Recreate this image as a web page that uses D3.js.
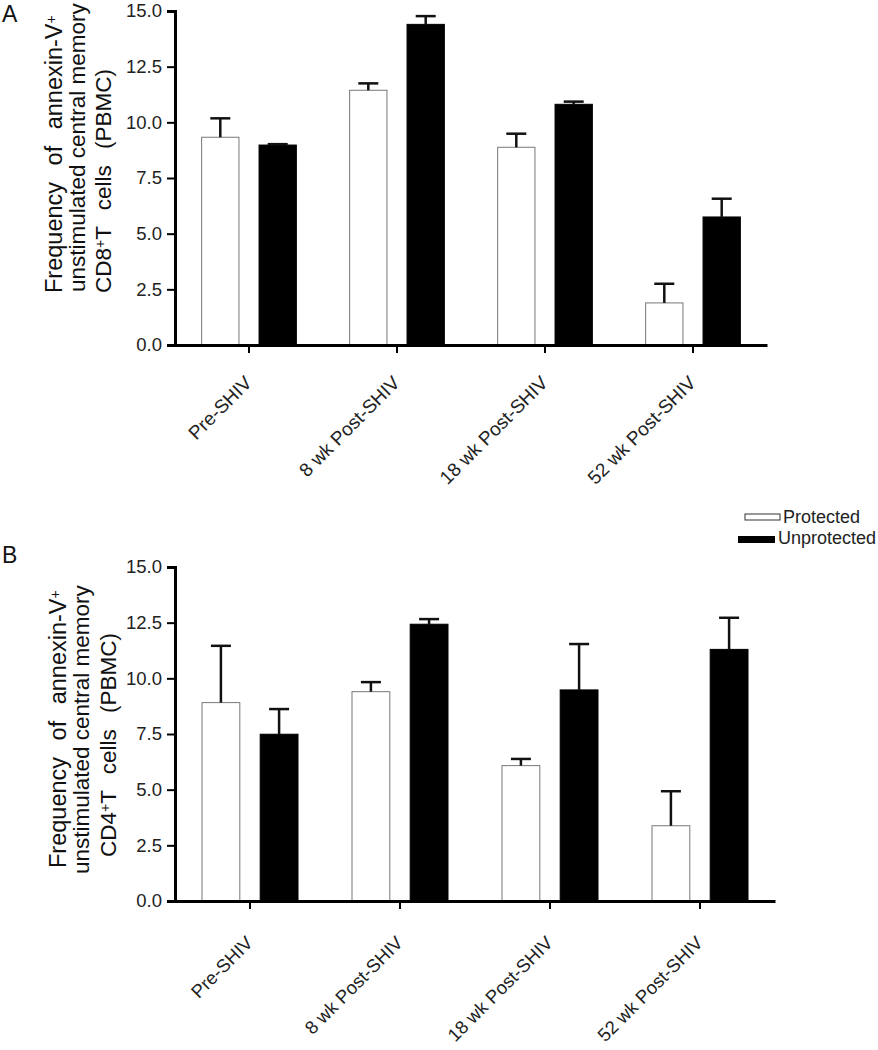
<!DOCTYPE html>
<html>
<head>
<meta charset="utf-8">
<script src="https://cdn.jsdelivr.net/npm/d3@7"></script>
<style>
  body { margin: 0; background: #fff; }
  svg { display: block; font-family: "Liberation Sans", Arial, sans-serif; }
</style>
</head>
<body>
<svg id="chart" width="878" height="1050"></svg>
<script>
// data
var categories = ['Pre-SHIV', '8 wk Post-SHIV', '18 wk Post-SHIV', '52 wk Post-SHIV'];
var groups = ['Protected', 'Unprotected'];
var yTicks = [0, 2.5, 5, 7.5, 10, 12.5, 15];

var cd8Protected = [9.33, 11.44, 8.88, 1.89];
var cd8ProtectedErr = [0.85, 0.31, 0.61, 0.86];
var cd8Unprotected = [8.98, 14.40, 10.81, 5.75];
var cd8UnprotectedErr = [0.04, 0.37, 0.12, 0.82];

var cd4Protected = [8.91, 9.40, 6.08, 3.38];
var cd4ProtectedErr = [2.55, 0.43, 0.30, 1.55];
var cd4Unprotected = [7.49, 12.43, 9.48, 11.30];
var cd4UnprotectedErr = [1.13, 0.23, 2.06, 1.42];

var fills = {'Protected': '#fff', 'Unprotected': '#000'};
var FONT = '"Liberation Sans", Arial, sans-serif';

var svg = d3.select('#chart');

function drawPanel(opt) {
	var y = d3.scaleLinear().domain([0, 15]).range([opt.bottom, opt.top]),
		x = d3.scaleBand().domain(categories).range([opt.left, opt.right]),
		bw = x.bandwidth(),
		xg = d3.scaleBand().domain(groups).range([bw * 0.18, bw * 0.82]).paddingInner(0.35),
		g = svg.append('g');

	var rows = [];
	categories.forEach(function(c, i) {
		rows.push({cat: c, grp: 'Protected', v: opt.prot[i], e: opt.protErr[i]});
		rows.push({cat: c, grp: 'Unprotected', v: opt.unprot[i], e: opt.unprotErr[i]});
	});

	function cx(d) { return x(d.cat) + xg(d.grp) + xg.bandwidth() / 2; }

	// bars
	g.selectAll('.bar')
		.data(rows)
		.enter()
		.append('rect')
		.attr('x', function(d) { return x(d.cat) + xg(d.grp); })
		.attr('y', function(d) { return y(d.v); })
		.attr('width', xg.bandwidth())
		.attr('height', function(d) { return y(0) - y(d.v); })
		.attr('fill', function(d) { return fills[d.grp]; })
		.attr('stroke', function(d) { return d.grp == 'Protected' ? '#777' : '#000'; })
		.attr('stroke-width', 1);

	// error bars (upper only)
	var eb = g.selectAll('.err')
		.data(rows)
		.enter()
		.append('g')
		.attr('stroke', '#111')
		.attr('stroke-width', 2.5);
	eb.append('line')
		.attr('x1', cx).attr('x2', cx)
		.attr('y1', function(d) { return y(d.v); })
		.attr('y2', function(d) { return y(d.v + d.e); });
	eb.append('line')
		.attr('x1', function(d) { return cx(d) - 10; })
		.attr('x2', function(d) { return cx(d) + 10; })
		.attr('y1', function(d) { return y(d.v + d.e); })
		.attr('y2', function(d) { return y(d.v + d.e); });

	// y axis
	var yAxis = g.append('g')
		.attr('transform', 'translate(' + opt.left + ',0)')
		.call(d3.axisLeft(y).tickValues(yTicks).tickFormat(d3.format('.1f')).tickSize(8).tickPadding(5));
	yAxis.select('.domain').attr('stroke-width', 3).attr('stroke', '#000');
	yAxis.selectAll('.tick line').attr('stroke-width', 2);
	yAxis.selectAll('text').attr('font-size', 18.5).attr('fill', '#222').attr('font-family', FONT);

	// x axis
	var xAxis = g.append('g')
		.attr('transform', 'translate(0,' + y(0) + ')')
		.call(d3.axisBottom(x).tickSize(8).tickSizeOuter(0));
	xAxis.select('.domain').attr('stroke-width', 3).attr('stroke', '#000');
	xAxis.selectAll('.tick line').attr('stroke-width', 2);
	xAxis.selectAll('text')
		.attr('font-size', opt.labelSize)
		.attr('fill', '#222')
		.attr('font-family', FONT)
		.attr('text-anchor', 'end')
		.attr('dy', 0)
		.attr('y', 0)
		.attr('transform', 'translate(4,' + opt.labelDrop + ') rotate(-45)');

	// panel letter
	svg.append('text')
		.attr('x', 2)
		.attr('y', opt.letterY)
		.attr('font-size', 23)
		.attr('fill', '#111')
		.text(opt.letter);

	// y title, three lines, words spread a little like the original
	opt.title.forEach(function(line, i) {
		var t = svg.append('text')
			.attr('transform', 'translate(' + opt.titleX[i] + ',' + opt.titleStart[i] + ') rotate(-90)')
			.attr('font-size', opt.titleSize[i])
			.attr('fill', '#111');
		line.forEach(function(part) {
			var s = t.append('tspan').text(part.t);
			if (part.sup) s.attr('font-size', 14).attr('baseline-shift', '45%');
		});
		var natural = t.node().getComputedTextLength(),
			spaces = line.map(function(p) { return p.t; }).join('').split(' ').length - 1;
		if (spaces > 0 && opt.titleLen[i] > natural)
			t.attr('word-spacing', Math.min(10, (opt.titleLen[i] - natural) / spaces));
	});
}

drawPanel({
	letter: 'A', letterY: 22,
	top: 11, bottom: 345, left: 175, right: 767, labelDrop: 39, labelSize: 19,
	prot: cd8Protected, protErr: cd8ProtectedErr,
	unprot: cd8Unprotected, unprotErr: cd8UnprotectedErr,
	title: [
		[{t: 'Frequency of annexin-V'}, {t: '+', sup: true}],
		[{t: 'unstimulated central memory'}],
		[{t: 'CD8'}, {t: '+', sup: true}, {t: 'T cells (PBMC)'}]
	],
	titleSize: [23.5, 22.5, 22.5],
	titleX: [62, 85, 111], titleStart: [293, 292, 293], titleLen: [288, 271, 230]
});

drawPanel({
	letter: 'B', letterY: 563,
	top: 567, bottom: 901, left: 175, right: 775, labelDrop: 43, labelSize: 18.5,
	prot: cd4Protected, protErr: cd4ProtectedErr,
	unprot: cd4Unprotected, unprotErr: cd4UnprotectedErr,
	title: [
		[{t: 'Frequency of annexin-V'}, {t: '+', sup: true}],
		[{t: 'unstimulated central memory'}],
		[{t: 'CD4'}, {t: '+', sup: true}, {t: 'T cells (PBMC)'}]
	],
	titleSize: [23.5, 22.5, 22.5],
	titleX: [66, 89, 116], titleStart: [868, 874, 857], titleLen: [288, 271, 230]
});

// legend
var legend = svg.append('g');
legend.append('rect').attr('x', 745).attr('y', 514).attr('width', 35).attr('height', 6)
	.attr('fill', fills['Protected']).attr('stroke', '#333').attr('stroke-width', 1);
legend.append('rect').attr('x', 738).attr('y', 536).attr('width', 37).attr('height', 7)
	.attr('fill', fills['Unprotected']);
legend.append('text').attr('x', 783).attr('y', 523).attr('font-size', 18).attr('fill', '#222').text(groups[0]);
legend.append('text').attr('x', 778).attr('y', 544).attr('font-size', 18).attr('fill', '#222').text(groups[1]);
</script>
</body>
</html>
